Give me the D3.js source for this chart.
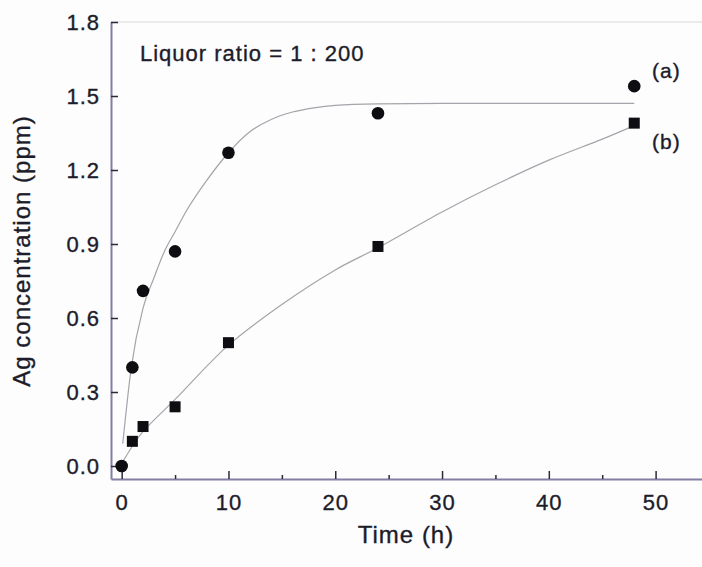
<!DOCTYPE html>
<html>
<head>
<meta charset="utf-8">
<script src="https://cdn.jsdelivr.net/npm/d3@7"></script>
<style>
  html, body { margin: 0; padding: 0; background: #fdfdfd; }
  svg { display: block; }
  text { font-family: "Liberation Sans", Arial, Helvetica, sans-serif; fill: #1c1c2a; stroke: #1c1c2a; stroke-width: 0.35px; }
</style>
</head>
<body>
<svg id="chart" width="702" height="567"></svg>
<script>
// ---- data ----
const timesA = [0, 1, 2, 5, 10, 24, 48];
const valuesA = [0.00, 0.40, 0.71, 0.87, 1.27, 1.43, 1.54];
const timesB = [1, 2, 5, 10, 24, 48];
const valuesB = [0.10, 0.16, 0.24, 0.50, 0.89, 1.39];

// fitted curves
const fitTimesA = [0.1, 0.9, 2, 3, 4, 5, 6, 8, 10, 12, 14, 16, 18, 20, 24, 30, 40, 48];
const fitValuesA = [0.09, 0.40, 0.64, 0.76, 0.87, 0.95, 1.03, 1.16, 1.27, 1.355, 1.405, 1.435, 1.452, 1.462, 1.468, 1.47, 1.47, 1.47];
const fitTimesB = [0, 1, 2, 5, 10, 15, 20, 24, 30, 35, 40, 45, 48];
const fitValuesB = [0.01, 0.08, 0.14, 0.27, 0.49, 0.655, 0.795, 0.885, 1.03, 1.14, 1.24, 1.325, 1.38];

const xTicks = [0, 10, 20, 30, 40, 50];
const xMinorTicks = [5, 15, 25, 35, 45];
const yTicks = [0.0, 0.3, 0.6, 0.9, 1.2, 1.5, 1.8];

const annotation = "Liquor ratio = 1 : 200";
const seriesLabels = ["(a)", "(b)"];
const xTitle = "Time (h)";
const yTitle = "Ag concentration (ppm)";

// ---- drawing ----
const svg = d3.select("#chart");
const x = d3.scaleLinear().domain([-1, 55]).range([111, 709]);
const y = d3.scaleLinear().domain([-0.0527, 1.8]).range([479, 22]);

const axisColor = "#857ea3";

// faint top frame
svg.append("line")
  .attr("x1", x.range()[0]).attr("x2", 702)
  .attr("y1", y(1.8)).attr("y2", y(1.8))
  .attr("stroke", "#d8d8de").attr("stroke-width", 1);

// x axis
const gx = svg.append("g").attr("transform", `translate(0,${y.range()[0]})`)
  .call(d3.axisBottom(x).tickValues(xTicks).tickFormat(d3.format("d"))
    .tickSizeInner(-8).tickSizeOuter(0).tickPadding(15));
gx.select(".domain").attr("stroke", axisColor).attr("stroke-width", 2);
gx.selectAll(".tick line").attr("stroke", "#2a2a3a").attr("stroke-width", 1.5);
gx.selectAll(".tick text").attr("font-size", 22).attr("letter-spacing", 1)
  .style("font-family", '"Liberation Sans", Arial, sans-serif').attr("fill", "#1c1c2a");

const gxm = svg.append("g").attr("transform", `translate(0,${y.range()[0]})`)
  .call(d3.axisBottom(x).tickValues(xMinorTicks).tickFormat("")
    .tickSizeInner(-4).tickSizeOuter(0));
gxm.select(".domain").remove();
gxm.selectAll(".tick line").attr("stroke", "#2a2a3a").attr("stroke-width", 1.5);

// y axis
const gy = svg.append("g").attr("transform", `translate(${x.range()[0]},0)`)
  .call(d3.axisLeft(y).tickValues(yTicks).tickFormat(d3.format(".1f"))
    .tickSizeInner(-7).tickSizeOuter(0).tickPadding(11));
gy.select(".domain").attr("stroke", axisColor).attr("stroke-width", 2);
gy.selectAll(".tick line").attr("stroke", "#2a2a3a").attr("stroke-width", 1.5);
gy.selectAll(".tick text").attr("font-size", 22).attr("letter-spacing", 1)
  .style("font-family", '"Liberation Sans", Arial, sans-serif').attr("fill", "#1c1c2a");

// axis titles
svg.append("text")
  .attr("x", 406).attr("y", 543)
  .attr("text-anchor", "middle").attr("font-size", 24).attr("letter-spacing", 1)
  .text(xTitle);
svg.append("text")
  .attr("transform", "translate(30,251) rotate(-90)")
  .attr("text-anchor", "middle").attr("font-size", 24).attr("letter-spacing", 1)
  .text(yTitle);

// annotation
svg.append("text")
  .attr("x", 140).attr("y", 61)
  .attr("font-size", 22).attr("letter-spacing", 1)
  .text(annotation);

// fitted curves
const lineA = d3.line().x(d => x(d[0])).y(d => y(d[1])).curve(d3.curveMonotoneX);
const lineB = d3.line().x(d => x(d[0])).y(d => y(d[1])).curve(d3.curveCatmullRom.alpha(0.5));
svg.append("path")
  .datum(fitTimesA.map((t, i) => [t, fitValuesA[i]]))
  .attr("d", lineA).attr("fill", "none")
  .attr("stroke", "#a4a4aa").attr("stroke-width", 1.2);
svg.append("path")
  .datum(fitTimesB.map((t, i) => [t, fitValuesB[i]]))
  .attr("d", lineB).attr("fill", "none")
  .attr("stroke", "#a4a4aa").attr("stroke-width", 1.2);

// markers
const sq = 11;
svg.append("g").selectAll("rect")
  .data(timesB.map((t, i) => [t, valuesB[i]]))
  .join("rect")
  .attr("x", d => x(d[0]) - sq / 2).attr("y", d => y(d[1]) - sq / 2)
  .attr("width", sq).attr("height", sq)
  .attr("fill", "#0d0d12");
svg.append("g").selectAll("circle")
  .data(timesA.map((t, i) => [t, valuesA[i]]))
  .join("circle")
  .attr("cx", d => x(d[0])).attr("cy", d => y(d[1]))
  .attr("r", 6.3).attr("fill", "#0d0d12");

// series labels
svg.append("text").attr("x", 652).attr("y", 78)
  .attr("font-size", 21).attr("letter-spacing", 1).text(seriesLabels[0]);
svg.append("text").attr("x", 652).attr("y", 149)
  .attr("font-size", 21).attr("letter-spacing", 1).text(seriesLabels[1]);
</script>
</body>
</html>
